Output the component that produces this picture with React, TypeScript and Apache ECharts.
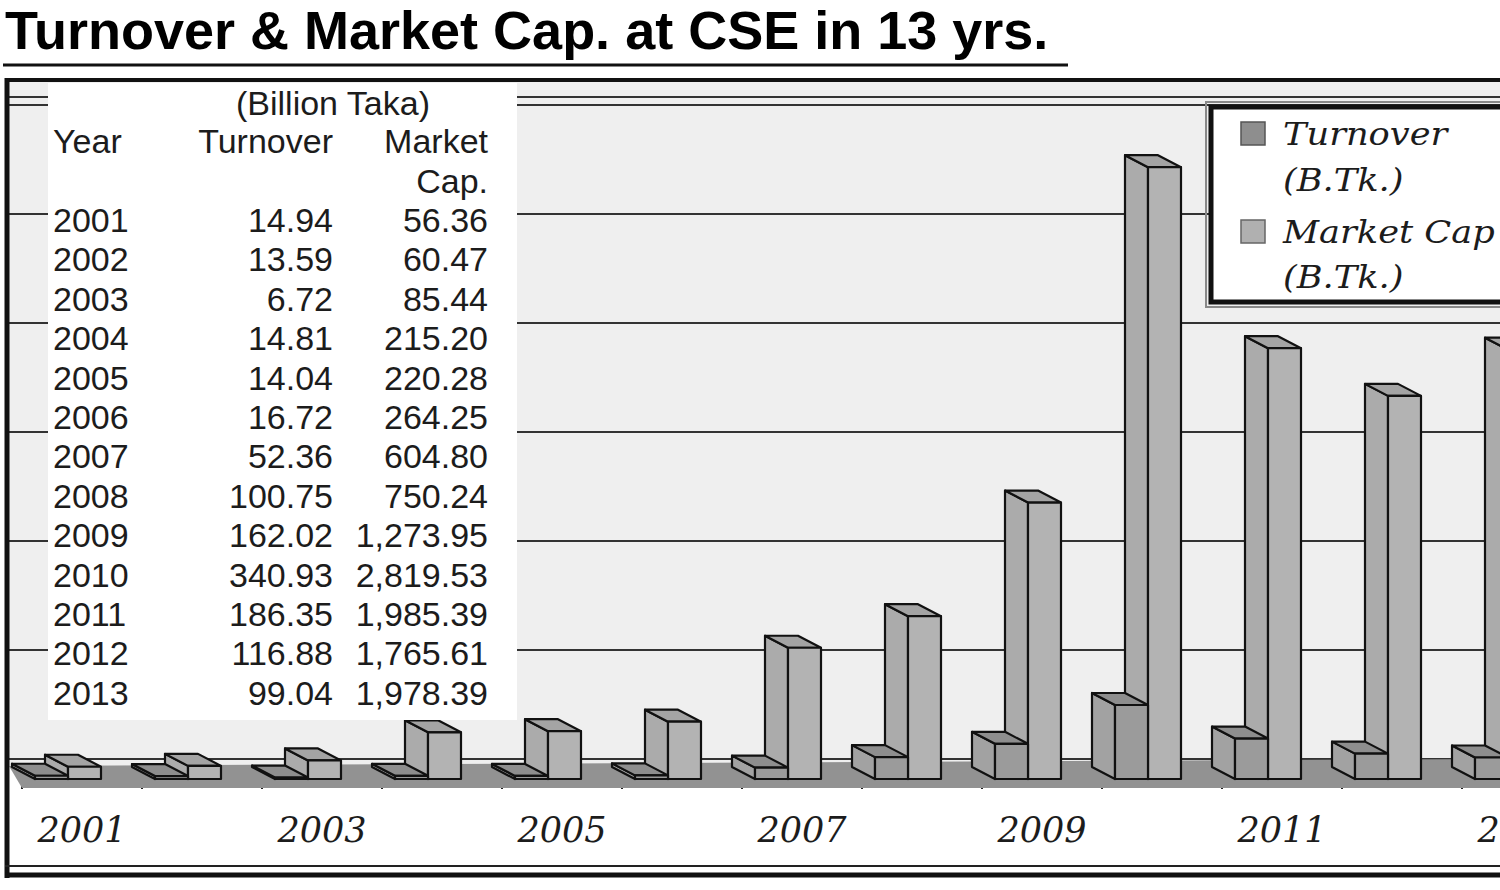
import React, { useEffect, useRef } from "react";
import * as echarts from "echarts";

// ---------- data ----------
const years = ["2001", "2002", "2003", "2004", "2005", "2006", "2007", "2008", "2009", "2010", "2011", "2012", "2013"];
const turnover = [14.94, 13.59, 6.72, 14.81, 14.04, 16.72, 52.36, 100.75, 162.02, 340.93, 186.35, 116.88, 99.04];
const marketCap = [56.36, 60.47, 85.44, 215.2, 220.28, 264.25, 604.8, 750.24, 1273.95, 2819.53, 1985.39, 1765.61, 1978.39];
const seriesNames = ["Turnover", "Market Cap"];
const legendUnit = "(B.Tk.)";
const yMin = 0;
const yMax = 3000;
const yInterval = 500;
const chartTitle = "Turnover & Market Cap. at CSE in 13 yrs.";
const tableCaption = "(Billion Taka)";
const tableHeaders = ["Year", "Turnover", "Market", "Cap."];

const fmt = (v: number) =>
  v.toLocaleString("en-US", { minimumFractionDigits: 2, maximumFractionDigits: 2 });

const DX = -23;
const DY = -12;

function makeRender(f0: number, f1: number, colors: { front: string; side: string; top: string }) {
  return (params: any, api: any) => {
    const idx = api.value(0);
    const v = api.value(1);
    const base = api.coord([idx, 0]);
    const top = api.coord([idx, v]);
    const bw = api.size([1, 0])[0];
    const xa = base[0] + f0 * bw;
    const xb = base[0] + f1 * bw;
    const yb = base[1];
    const yt = top[1];
    const st = { stroke: "#111", lineWidth: 2.2, lineJoin: "round" };
    return {
      type: "group",
      children: [
        {
          type: "polygon",
          shape: { points: [[xa, yb], [xa, yt], [xa + DX, yt + DY], [xa + DX, yb + DY]] },
          style: { ...st, fill: colors.side },
        },
        {
          type: "polygon",
          shape: { points: [[xa, yt], [xb, yt], [xb + DX, yt + DY], [xa + DX, yt + DY]] },
          style: { ...st, fill: colors.top },
        },
        {
          type: "rect",
          shape: { x: xa, y: yt, width: xb - xa, height: yb - yt },
          style: { ...st, fill: colors.front },
        },
      ],
    };
  };
}

function txt(text: string, x: number, y: number, font: string, align: string, z = 12, extra: any = {}) {
  return {
    type: "text",
    x,
    y,
    z,
    ...extra,
    style: {
      text,
      font,
      fill: "#1c1c1c",
      textAlign: align,
      align,
      textVerticalAlign: "middle",
      verticalAlign: "middle",
    },
  };
}

export default function App() {
  const ref = useRef<HTMLDivElement>(null);
  useEffect(() => {
    if (!ref.current) return;
    const chart = echarts.init(ref.current, undefined, { renderer: "svg" });

    const tableFont = "34px 'Liberation Sans', Arial, sans-serif";
    const rowY0 = 220;
    const rowPitch = 39.4;
    const tableEls: any[] = [
      { type: "rect", z: 10, shape: { x: 48, y: 83, width: 469, height: 637 }, style: { fill: "#ffffff" } },
      txt(tableCaption, 333, 103, tableFont, "center"),
      txt(tableHeaders[0], 53, 141, tableFont, "left"),
      txt(tableHeaders[1], 333, 141, tableFont, "right"),
      txt(tableHeaders[2], 488, 141, tableFont, "right"),
      txt(tableHeaders[3], 488, 181, tableFont, "right"),
    ];
    years.forEach((yr, i) => {
      const y = rowY0 + i * rowPitch;
      tableEls.push(txt(yr, 53, y, tableFont, "left"));
      tableEls.push(txt(fmt(turnover[i]), 333, y, tableFont, "right"));
      tableEls.push(txt(fmt(marketCap[i]), 488, y, tableFont, "right"));
    });

    const legFont = "italic 32px 'DejaVu Serif', serif";
    const legendEls: any[] = [
      { type: "rect", z: 10, shape: { x: 1206, y: 102, width: 400, height: 205 }, style: { fill: "none", stroke: "#888", lineWidth: 2 } },
      { type: "rect", z: 10, shape: { x: 1211, y: 107, width: 400, height: 195 }, style: { fill: "#ffffff", stroke: "#111", lineWidth: 5 } },
      { type: "rect", z: 11, shape: { x: 1241, y: 122, width: 24, height: 23 }, style: { fill: "#8e8e8e", stroke: "#555", lineWidth: 1.5 } },
      { type: "rect", z: 11, shape: { x: 1241, y: 220, width: 24, height: 23 }, style: { fill: "#b0b0b0", stroke: "#666", lineWidth: 1.5 } },
      txt(seriesNames[0], 1283, 134, legFont, "left", 12, { scaleX: 1.1 }),
      txt(legendUnit, 1283, 180, legFont, "left", 12, { scaleX: 1.1 }),
      txt(seriesNames[1], 1283, 232, legFont, "left", 12, { scaleX: 1.1 }),
      txt(legendUnit, 1283, 277, legFont, "left", 12, { scaleX: 1.1 }),
    ];

    const titleEl: any = txt(chartTitle, 5, 30, "bold 54px 'Liberation Sans', Arial, sans-serif", "left", 20, {});
    titleEl.style.fill = "#000";

    const frameEls: any[] = [
      // back wall
      { type: "polygon", z: -5, shape: { points: [[9, 82], [1500, 82], [1500, 760], [9, 766]] }, style: { fill: "#efefef" } },
      { type: "line", z: 1, shape: { x1: 9, y1: 97, x2: 1500, y2: 97 }, style: { stroke: "#333", lineWidth: 2 } },
      // floor
      { type: "polygon", z: 2, shape: { points: [[9, 766], [1500, 759], [1500, 788], [22, 788]] }, style: { fill: "#929292" } },
      // frame
      { type: "line", z: 20, shape: { x1: 5, y1: 80, x2: 1500, y2: 80 }, style: { stroke: "#111", lineWidth: 4 } },
      { type: "line", z: 20, shape: { x1: 7, y1: 78, x2: 7, y2: 878 }, style: { stroke: "#111", lineWidth: 5 } },
      { type: "line", z: 20, shape: { x1: 5, y1: 866, x2: 1500, y2: 866 }, style: { stroke: "#222", lineWidth: 2 } },
      { type: "line", z: 20, shape: { x1: 5, y1: 875, x2: 1500, y2: 875 }, style: { stroke: "#111", lineWidth: 5 } },
      // title
      titleEl,
      { type: "line", z: 20, shape: { x1: 3, y1: 65, x2: 1068, y2: 65 }, style: { stroke: "#111", lineWidth: 3 } },
    ];

    const option: any = {
      animation: false,
      backgroundColor: "#ffffff",
      grid: [
        { left: 22, top: 128, width: 1560, height: 651, outerBoundsMode: "none", containLabel: false },
        { left: 9, right: 0, top: 105, bottom: 131, outerBoundsMode: "none", containLabel: false },
      ],
      xAxis: [
        {
          type: "category",
          gridIndex: 0,
          data: years,
          boundaryGap: true,
          offset: 9,
          axisLine: { show: false },
          axisTick: { show: true, interval: 0, length: 10, lineStyle: { color: "#222", width: 2 } },
          axisLabel: {
            interval: 1,
            margin: 24,
            color: "#1c1c1c",
            fontFamily: "'DejaVu Serif', serif",
            fontStyle: "italic",
            fontSize: 35,
          },
          splitLine: { show: false },
        },
        { type: "value", gridIndex: 1, min: 0, max: 1, show: false },
      ],
      yAxis: [
        { type: "value", gridIndex: 0, min: yMin, max: yMax, interval: yInterval, show: false },
        {
          type: "value",
          gridIndex: 1,
          min: yMin,
          max: yMax,
          interval: yInterval,
          axisLine: { show: false },
          axisTick: { show: false },
          axisLabel: { show: false },
          splitLine: { show: true, lineStyle: { color: "#333", width: 2 } },
        },
      ],
      series: [
        {
          type: "custom",
          name: seriesNames[1],
          xAxisIndex: 0,
          yAxisIndex: 0,
          z: 5,
          encode: { x: 0, y: 1 },
          data: marketCap.map((v, i) => [i, v]),
          renderItem: makeRender(-14 / 120, 19 / 120, { front: "#b3b3b3", side: "#ababab", top: "#a4a4a4" }),
        },
        {
          type: "custom",
          name: seriesNames[0],
          xAxisIndex: 0,
          yAxisIndex: 0,
          z: 6,
          encode: { x: 0, y: 1 },
          data: turnover.map((v, i) => [i, v]),
          renderItem: makeRender(-47 / 120, -14 / 120, { front: "#9b9b9b", side: "#a2a2a2", top: "#8e8e8e" }),
        },
      ],
      graphic: { elements: [...frameEls, ...tableEls, ...legendEls] },
    };
    chart.setOption(option);
    return () => chart.dispose();
  }, []);
  return (
    <div
      ref={ref}
      style={{ position: "absolute", left: 0, top: 0, width: 1500, height: 890, background: "#fff" }}
    />
  );
}
